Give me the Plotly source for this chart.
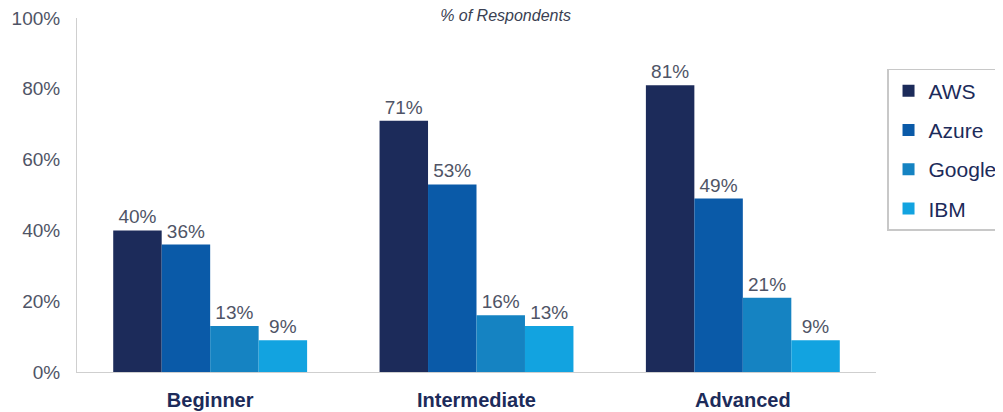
import plotly.graph_objects as go

categories = ["Beginner", "Intermediate", "Advanced"]
series_names = ["AWS", "Azure", "Google", "IBM"]
aws = [40, 71, 81]
azure = [36, 53, 49]
google = [13, 16, 21]
ibm = [9, 13, 9]
colors = ["#1c2b5a", "#0a5aa8", "#1583c2", "#12a3e0"]
y_ticks = [0, 20, 40, 60, 80, 100]
y_tick_labels = ["0%", "20%", "40%", "60%", "80%", "100%"]

fig = go.Figure()
for i, (name, vals) in enumerate(zip(series_names, [aws, azure, google, ibm])):
    fig.add_trace(go.Bar(
        x=categories, y=vals, name=name,
        marker=dict(color=colors[i], line=dict(width=0)),
        text=[f"{v}%" for v in vals], textposition="outside",
        textfont=dict(family="Liberation Sans", size=19, color="#4f5466"),
        cliponaxis=False, legendgroup=name,
    ))

fig.update_layout(
    width=995, height=404,
    margin=dict(l=69, r=127, t=10, b=40, autoexpand=False),
    paper_bgcolor="white", plot_bgcolor="white",
    barmode="group", bargap=0.272, bargroupgap=0,
    title=dict(text="<i>% of Respondents</i>", x=0.5, xanchor="center",
               y=0.982, yanchor="middle",
               font=dict(family="Liberation Sans", size=16, color="#3a3f52")),
    legend=dict(x=1.0138, y=0.856, xanchor="left", yanchor="top",
                bordercolor="#c8c8c8", borderwidth=1.5,
                font=dict(family="Liberation Sans", size=21, color="#1c2b5a"),
                traceorder="grouped", tracegroupgap=9, itemwidth=30),
    showlegend=True,
    font=dict(family="Liberation Sans"),
)
fig.update_yaxes(range=[0, 100], tickvals=y_ticks, ticktext=y_tick_labels,
                 showgrid=False, zeroline=False, showline=True, linecolor="#cfcfcf",
                 linewidth=1, ticks="", ticklabelstandoff=12, automargin=False,
                 ticklabeloverflow="allow",
                 tickfont=dict(family="Liberation Sans", size=19, color="#4f5466"))
fig.update_xaxes(showgrid=False, showline=True, linecolor="#cfcfcf", linewidth=1,
                 ticks="", ticklabelstandoff=10, automargin=False,
                 ticklabeloverflow="allow",
                 tickfont=dict(family="Liberation Sans", size=20, color="#1c2b5a", weight="bold"))

fig.write_html("out.html")
